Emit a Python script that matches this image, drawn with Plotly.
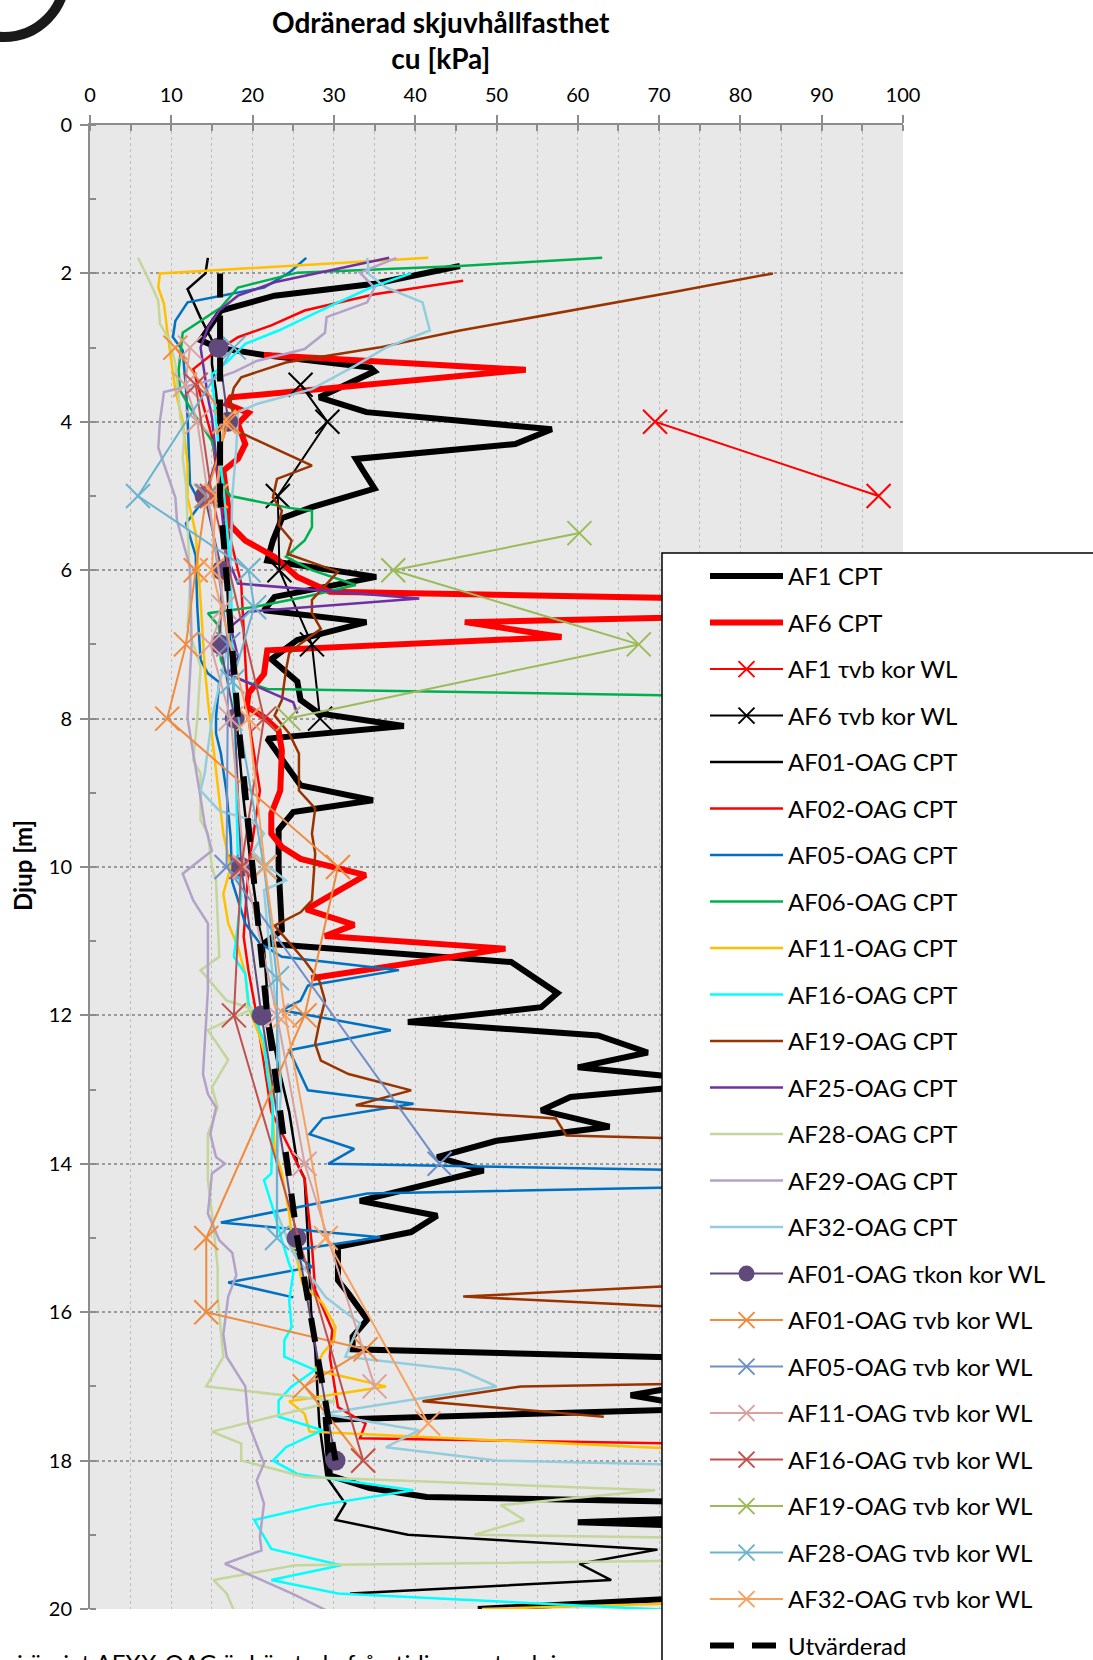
import plotly.graph_objects as go

# ---------------- data: undrained shear strength cu [kPa] vs depth [m] ----------------
af1_cpt_cu = [45.5, 35, 22.7, 16.1, 13.6, 15.7, 21.4, 34.5, 35, 28.2, 34, 45, 56.8, 52.3, 32.7, 33.6, 35, 27.3, 23.6, 22.5,
              21.8, 35.2, 22.7, 21.4, 34, 25.5, 22.3, 25.5, 25.9, 28.2, 38.6, 21.8, 23.6, 25.9, 34.8, 25, 23.2, 23.2, 23.6,
              21.4, 51.8, 57.5, 55.5, 39.1, 62.5, 68.6, 60, 74, 74, 59.1, 55.5, 63.9, 50, 42.7, 48.4, 33.2, 42.7, 39.5,
              30.5, 30.5, 31.8, 34.1, 32.3, 32.3, 76, 78, 66.5, 76, 29, 29.5, 34.4, 41.4, 76, 80, 60, 80, 82, 47.7]
af1_cpt_z = [1.9, 2.14, 2.3, 2.5, 2.9, 3.0, 3.1, 3.27, 3.32, 3.67, 3.87, 3.98, 4.1, 4.3, 4.5, 4.66, 4.9, 5.15, 5.3, 5.6,
             5.87, 6.09, 6.36, 6.54, 6.7, 6.94, 7.2, 7.5, 7.75, 7.93, 8.1, 8.27, 8.56, 8.9, 9.1, 9.26, 9.5, 10.0, 10.85,
             11.03, 11.28, 11.7, 11.89, 12.09, 12.27, 12.5, 12.7, 12.85, 12.95, 13.1, 13.28, 13.5, 13.69, 13.91, 14.09,
             14.5, 14.7, 14.92, 15.12, 15.57, 15.75, 16.1, 16.33, 16.5, 16.62, 16.9, 17.12, 17.3, 17.45, 18.2, 18.37,
             18.49, 18.56, 18.75, 18.83, 18.9, 19.8, 20.0]

af6_cpt_cu = [21.4, 53.6, 17.3, 16.8, 19.5, 18.2, 19.1, 18.2, 16.4, 16.8, 17.3, 19.1, 22.7, 25.5, 29.5, 75, 78, 75, 46.1,
              58, 21.8, 21.4, 19.5, 19.3, 21.4, 23.2, 23.6, 23.4, 22.3, 22.3, 23.6, 25.9, 33.9, 26.6, 32.5, 28.9, 51.1, 27.2]
af6_cpt_z = [3.1, 3.3, 3.67, 3.76, 3.88, 4.03, 4.3, 4.5, 4.66, 5.0, 5.4, 5.6, 5.82, 6.09, 6.29, 6.38, 6.5, 6.63, 6.7,
             6.9, 7.08, 7.4, 7.66, 7.84, 7.98, 8.16, 8.43, 8.97, 9.28, 9.55, 9.73, 9.89, 10.11, 10.57, 10.78, 10.93, 11.1, 11.5]

af1_vb_cu = [69.5, 97]
af1_vb_z = [4, 5]

af6_vb_cu = [25.9, 29.2, 23.1, 23.3, 27.3, 28.3]
af6_vb_z = [3.5, 4, 5, 6, 7, 8]

af01_cpt_cu = [14.5, 14.2, 12, 13.6, 15, 15, 15.5, 16, 16.2, 16.8, 17.2, 18, 18.8, 19.8, 20.8, 21.4, 22, 23, 24.5, 25.5,
               26.4, 26.8, 27.2, 27.7, 28.2, 29.1, 31.4, 30.2, 39.1, 69.8, 60.2, 64.1, 32]
af01_cpt_z = [1.79, 2.0, 2.21, 2.6, 2.9, 3.22, 3.6, 4.2, 5, 6, 7, 8, 9, 10, 10.8, 11.1, 12, 12.6, 13.3, 14.0, 14.2, 15.0,
              16, 16.5, 17.5, 18.22, 18.58, 18.8, 19.0, 19.2, 19.39, 19.61, 19.79]

af02_cpt_cu = [45.9, 35, 26.4, 22.3, 18.2, 15, 12.7, 13.5, 15, 16, 18.6, 19, 19.5, 20.9, 19.5, 18.9, 19.5, 20.5, 22.3,
               25.5, 26.4, 27.3, 27.7, 29.8, 29.5, 30.5, 33.9, 33.2, 78]
af02_cpt_z = [2.1, 2.28, 2.5, 2.7, 2.86, 3.09, 3.29, 3.6, 4.2, 5, 6.18, 7, 8, 8.97, 10, 10.94, 11.4, 12, 13.3, 14, 14.2,
              15.1, 15.7, 16.24, 16.6, 17.28, 17.5, 17.7, 17.78]

af05_cpt_cu = [26.6, 24.5, 21.4, 12, 10.5, 10.2, 11.4, 11.8, 12, 12.3, 13.6, 11.8, 13, 13.2, 13.6, 14.5, 15.9, 15.5, 15.5,
               16.1, 16.8, 17.3, 17.5, 19.1, 20.9, 23.6, 38, 26.8, 25.9, 23.6, 37, 24.5, 26.8, 39.8, 28.6, 27, 32.5,
               29.3, 76, 76, 34.1, 16.1, 35.7, 24.8, 27.3, 17, 25]
af05_cpt_z = [1.79, 1.99, 2.19, 2.39, 2.64, 2.86, 3.04, 3.54, 3.94, 4.84, 5.11, 5.37, 5.8, 6.5, 7.21, 7.39, 7.51, 7.98,
              8.2, 8.47, 9, 9.6, 10.2, 10.76, 11.03, 11.21, 11.39, 11.6, 11.8, 11.93, 12.2, 12.47, 13.01, 13.19, 13.39,
              13.6, 13.8, 14.0, 14.09, 14.31, 14.4, 14.79, 14.99, 15.17, 15.39, 15.6, 15.8]

af06_cpt_cu = [63, 45.5, 25.5, 18.2, 16.1, 11.4, 10.9, 11.1, 12.3, 15, 15.7, 16.8, 17.3, 24.5, 27.3, 27.3, 26.4, 24.1,
               27.3, 32.7, 26.4, 20.5, 14.5, 15.9, 16.1, 16.8, 19.1, 21.8, 78]
af06_cpt_z = [1.79, 1.9, 1.99, 2.19, 2.46, 2.8, 3.31, 3.58, 3.81, 4.26, 4.57, 4.93, 5.0, 5.16, 5.2, 5.42, 5.6, 5.82, 6.0,
              6.2, 6.36, 6.49, 6.58, 6.76, 7.21, 7.39, 7.5, 7.6, 7.7]

af11_cpt_cu = [41.6, 8.6, 8.4, 9.1, 9.5, 10.5, 11.4, 12, 12, 13, 13.6, 14.1, 14.5, 15.9, 16.4, 17.3, 16.4, 17, 18.2, 19.1,
               19.5, 20.9, 22.3, 22.7, 23.6, 24.5, 25, 25.5, 26.1, 28.6, 30.2, 30, 28.6, 27.7, 36.4, 24.5, 26.4, 27,
               33.2, 78, 80, 48.2]
af11_cpt_z = [1.79, 2.0, 2.19, 2.41, 2.77, 3.58, 3.99, 4.57, 5.02, 5.5, 6.4, 7.3, 7.75, 9.1, 9.55, 10, 10.36, 10.76, 11.08,
              11.44, 11.89, 12.29, 12.88, 13.78, 14.13, 14.67, 15.16, 15.3, 15.61, 15.88, 16.2, 16.38, 16.56, 16.78, 17.0,
              17.2, 17.37, 17.61, 17.64, 17.87, 19.9, 20.0]

af16_cpt_cu = [39.5, 35, 29.5, 23.2, 19.1, 16.8, 15, 15.5, 16.5, 17.3, 17.5, 17.8, 18, 18.2, 18.6, 17.7, 19.1, 19.5, 21.4,
               21.8, 22.5, 22.3, 21.4, 22.7, 23.6, 24.5, 25, 24.5, 24.8, 23.9, 23.9, 27.7, 24.8, 23.2, 23.2, 28.6, 24.1,
               22.5, 25.5, 39.8, 28.2, 20.2, 22.3, 30.9, 22.3, 30.5, 78]
af16_cpt_z = [2.0, 2.17, 2.44, 2.77, 2.95, 3.2, 3.36, 4, 5, 6, 7, 8, 9, 10, 10.4, 11.21, 11.44, 11.84, 12.34, 12.79, 13.24,
              14.13, 14.22, 14.67, 15.03, 15.35, 15.48, 15.84, 16.2, 16.38, 16.6, 16.78, 17.0, 17.19, 17.41, 17.59,
              17.82, 18.0, 18.18, 18.4, 18.6, 18.8, 19.19, 19.41, 19.61, 19.79, 20.05]

af19_cpt_cu = [84, 71.3, 45.5, 35.5, 24.1, 18.6, 17.7, 17.3, 18, 27.3, 23, 22.5, 23.6, 23.2, 24.8, 24.3, 30.5, 27.3, 27.3,
               28.4, 25.9, 24.5, 24.1, 23.6, 22.7, 24.5, 25.7, 25.7, 27.7, 27.3, 27.7, 27.5, 27.3, 25.9, 22.7, 26.4,
               28.2, 28.9, 28.2, 27.7, 28.4, 31.8, 39.5, 32.7, 57.3, 58.6, 80, 80, 45.9, 80, 80, 53, 40.9, 63.2]
af19_cpt_z = [2.0, 2.26, 2.77, 3.0, 3.2, 3.4, 3.54, 3.72, 4.12, 4.59, 4.77, 5.02, 5.2, 5.39, 5.6, 5.78, 6.02, 6.4, 6.58,
              6.79, 6.99, 7.12, 7.35, 7.75, 7.96, 8.2, 8.47, 8.97, 9.21, 9.55, 9.82, 10.18, 10.45, 10.61, 10.79, 11.26,
              11.53, 11.8, 12.11, 12.38, 12.61, 12.79, 13.01, 13.21, 13.39, 13.62, 13.68, 15.6, 15.79, 15.97, 16.95,
              17.0, 17.2, 17.41]

af25_cpt_cu = [36.8, 22.7, 18.2, 15.9, 14.5, 13.6, 14.1, 14.5, 15, 15.5, 16.2, 16.8, 18.2, 40.5, 19.5, 17.3, 18.2, 17,
               25, 25.5]
af25_cpt_z = [1.79, 2.12, 2.3, 2.5, 2.73, 3.0, 3.36, 3.67, 3.94, 4.5, 5.2, 5.8, 6.18, 6.38, 6.56, 6.76, 7.17, 7.4, 7.78, 7.93]

af28_cpt_cu = [5.9, 7.3, 8.4, 8.6, 9.8, 10.5, 10.9, 11.1, 11.6, 11.4, 11.8, 12, 12.3, 12, 13.6, 13.2, 12.7, 13.6, 13.6,
               14.5, 15, 15.5, 15.9, 13.6, 16.8, 20, 14.5, 17, 15, 15.7, 14.5, 14.5, 15, 15.7, 15.7, 16.4, 14.3, 30.2,
               15, 18.6, 18.6, 26.4, 69.5, 50.5, 53.4, 47.3, 80, 80, 25.2, 15.2, 16.8, 17.7]
af28_cpt_z = [1.79, 2.1, 2.37, 2.68, 2.9, 3.22, 3.67, 3.94, 4.21, 4.48, 4.84, 5.5, 6.2, 6.76, 7.3, 8, 8.56, 8.74, 9.37,
              9.55, 10, 10.18, 11.21, 11.39, 11.8, 11.91, 12.2, 12.6, 12.97, 13.24, 13.6, 14.22, 14.67, 15.39, 15.79,
              16.6, 17.0, 17.2, 17.61, 17.77, 18.0, 18.22, 18.4, 18.6, 18.8, 19.0, 19.05, 19.34, 19.41, 19.61, 19.79, 20.02]

af29_cpt_cu = [37.7, 33.2, 35, 34.1, 29.1, 28.9, 26.4, 20.5, 17.7, 14.5, 9.1, 8.6, 8.4, 9.1, 10.5, 10.7, 12.3, 12.5, 12,
               13.5, 14.1, 15, 11.4, 12.7, 14.5, 14.5, 14.5, 13.9, 14.5, 15.5, 14.8, 15.5, 16.6, 15, 14.5, 15.9, 17.5,
               18, 17, 16.4, 16.8, 19.1, 19.5, 21.4, 20.5, 21.4, 20.9, 21.1, 16.6, 24.8, 29.1]
af29_cpt_z = [1.79, 1.99, 2.19, 2.39, 2.59, 2.8, 3.02, 3.18, 3.33, 3.45, 3.6, 3.99, 4.35, 4.57, 5.02, 5.33, 5.96, 7, 8, 9,
              9.42, 9.78, 10.09, 10.45, 10.76, 11.08, 11.66, 12.79, 13.06, 13.24, 13.6, 13.91, 14.0, 14.13, 14.67, 15.03,
              15.2, 15.5, 15.79, 16.3, 16.6, 17.0, 17.5, 18.04, 18.27, 18.58, 19.03, 19.21, 19.39, 19.79, 20.02]

af32_cpt_cu = [34.1, 34.3, 36.4, 40.9, 41.8, 36.4, 32.7, 27.3, 20.5, 18.2, 18, 17.5, 17.3, 17, 15, 14.1, 13.6, 15.9, 20,
               21.4, 20, 22, 24.1, 21.4, 22, 23, 23.5, 23, 23, 25, 29, 33.2, 31.4, 45.5, 50, 28.6, 40.5, 36.4, 50, 78]
af32_cpt_z = [1.79, 2.01, 2.19, 2.39, 2.77, 3.0, 3.24, 3.56, 3.76, 3.87, 4.35, 5, 6, 7, 8, 8.74, 8.97, 9.24, 9.37, 9.55,
              9.8, 10, 10.18, 10.31, 11, 12, 13, 14, 14.67, 15.2, 15.8, 16.15, 16.6, 16.78, 17.0, 17.37, 17.59, 17.82,
              18.0, 18.07]

af01_kon_cu = [15.8, 17.0, 14.1, 16.2, 16.0, 17.8, 18.6, 21.1, 25.4, 30.2]
af01_kon_z = [3, 4, 5, 6, 7, 8, 10, 12, 15, 18]

af01_vb_cu = [10.5, 17, 14.3, 13, 11.8, 9.5, 30.5, 26.4, 14.3, 14.3, 33.9, 26.4, 33.6]
af01_vb_z = [3, 4, 5, 6, 7, 8, 10, 12, 15, 16, 16.5, 17, 18]

af05_vb_cu = [14.5, 17, 16.8, 43]
af05_vb_z = [5, 7, 10, 14]

af11_vb_cu = [12.3, 11.7, 13.2, 16.5, 14.8, 17.3, 19, 23, 26.4, 35]
af11_vb_z = [3, 3.5, 4, 6.5, 7, 8, 10, 12, 14, 17]

af16_vb_cu = [13, 15, 21.4, 18.6, 17.7, 33.6]
af16_vb_z = [3.5, 5, 8, 10, 12, 18]

af19_vb_cu = [60.2, 37.3, 67.5, 24.4]
af19_vb_z = [5.5, 6, 7, 8]

af28_vb_cu = [17.7, 5.9, 19.5, 20.2, 17.5, 21.4, 23, 23]
af28_vb_z = [3, 5, 6, 6.5, 7.5, 10, 11.5, 15]

af32_vb_cu = [16.5, 15.5, 15, 19.5, 21.5, 24, 29, 41.6]
af32_vb_z = [4, 5, 6, 8, 10, 12, 15, 17.5]

evaluated_cu = [16, 16, 18.2, 21.8, 25.5, 30.2]
evaluated_z = [2, 5, 8, 12, 15, 18]

x_ticks = [0, 10, 20, 30, 40, 50, 60, 70, 80, 90, 100]
y_ticks = [0, 2, 4, 6, 8, 10, 12, 14, 16, 18, 20]

# ---------------- figure ----------------
W, H = 1093, 1660
L, R, T, B = 90, 190, 125, 51
PW, PH = W - L - R, H - T - B
FONT = "Lato, 'Open Sans', sans-serif"


def px_x(p):
    return (p - L) / PW


def px_y(p):
    return 1 - (p - T) / PH


fig = go.Figure()


def add_line(name, xs, ys, color, width, dash="solid"):
    fig.add_trace(go.Scatter(x=xs, y=ys, name=name, legendgroup=name, mode="lines",
                             line=dict(color=color, width=width, dash=dash)))


def add_x(name, xs, ys, color, width=2):
    fig.add_trace(go.Scatter(x=xs, y=ys, name=name, legendgroup=name, mode="lines+markers",
                             line=dict(color=color, width=width),
                             marker=dict(symbol="x-thin", size=24, color=color,
                                         line=dict(color=color, width=2))))


add_line("AF1 CPT", af1_cpt_cu, af1_cpt_z, "#000000", 6)
add_line("AF6 CPT", af6_cpt_cu, af6_cpt_z, "#FF0000", 6)
add_x("AF1 τvb kor WL", af1_vb_cu, af1_vb_z, "#FF0000")
add_x("AF6 τvb kor WL", af6_vb_cu, af6_vb_z, "#000000")
add_line("AF01-OAG CPT", af01_cpt_cu, af01_cpt_z, "#000000", 2.5)
add_line("AF02-OAG CPT", af02_cpt_cu, af02_cpt_z, "#FF0000", 2.5)
add_line("AF05-OAG CPT", af05_cpt_cu, af05_cpt_z, "#0070C0", 2.5)
add_line("AF06-OAG CPT", af06_cpt_cu, af06_cpt_z, "#00B050", 2.5)
add_line("AF11-OAG CPT", af11_cpt_cu, af11_cpt_z, "#FFC000", 2.5)
add_line("AF16-OAG CPT", af16_cpt_cu, af16_cpt_z, "#00FFFF", 2.5)
add_line("AF19-OAG CPT", af19_cpt_cu, af19_cpt_z, "#993300", 2.5)
add_line("AF25-OAG CPT", af25_cpt_cu, af25_cpt_z, "#7030A0", 2.5)
add_line("AF28-OAG CPT", af28_cpt_cu, af28_cpt_z, "#C3D69B", 2.5)
add_line("AF29-OAG CPT", af29_cpt_cu, af29_cpt_z, "#B3A2C7", 2.5)
add_line("AF32-OAG CPT", af32_cpt_cu, af32_cpt_z, "#93CDDD", 2.5)
fig.add_trace(go.Scatter(x=af01_kon_cu, y=af01_kon_z, name="AF01-OAG τkon kor WL",
                         legendgroup="AF01-OAG τkon kor WL", mode="lines+markers",
                         line=dict(color="#604A7B", width=2),
                         marker=dict(symbol="circle", size=20, color="#604A7B")))
add_x("AF01-OAG τvb kor WL", af01_vb_cu, af01_vb_z, "#F08A3C")
add_x("AF05-OAG τvb kor WL", af05_vb_cu, af05_vb_z, "#6F8FCA")
add_x("AF11-OAG τvb kor WL", af11_vb_cu, af11_vb_z, "#D9A2A0")
add_x("AF16-OAG τvb kor WL", af16_vb_cu, af16_vb_z, "#C0504D")
add_x("AF19-OAG τvb kor WL", af19_vb_cu, af19_vb_z, "#9BBB59")
add_x("AF28-OAG τvb kor WL", af28_vb_cu, af28_vb_z, "#6BB3CF")
add_x("AF32-OAG τvb kor WL", af32_vb_cu, af32_vb_z, "#F8A15E")
add_line("Utvärderad", evaluated_cu, evaluated_z, "#000000", 6, dash="24px,18px")

axis_grey = "#8C8C8C"

fig.update_layout(
    width=W, height=H,
    margin=dict(l=L, r=R, t=T, b=B, autoexpand=False),
    paper_bgcolor="white",
    plot_bgcolor="#E8E8E8",
    font=dict(family=FONT, size=20, color="black"),
    xaxis=dict(
        side="top", range=[0, 100], tickvals=x_ticks, ticktext=[str(v) for v in x_ticks],
        showline=True, linecolor=axis_grey, linewidth=2,
        ticks="outside", ticklen=8, tickwidth=2, tickcolor=axis_grey,
        ticklabelstandoff=5,
        showgrid=True, gridcolor="#BDBDBD", griddash="dot", gridwidth=1,
        zeroline=False,
        minor=dict(dtick=5, tick0=0, ticks="inside", ticklen=6, tickwidth=1.5, tickcolor=axis_grey,
                   showgrid=True, gridcolor="#BDBDBD", griddash="dot", gridwidth=1),
        tickfont=dict(family=FONT, size=20, color="black"),
    ),
    yaxis=dict(
        range=[20, 0], tickvals=y_ticks, ticktext=[str(v) for v in y_ticks],
        showline=True, linecolor=axis_grey, linewidth=2,
        ticks="outside", ticklen=8, tickwidth=2, tickcolor=axis_grey,
        ticklabelstandoff=4,
        showgrid=True, gridcolor="#9A9A9A", griddash="dot", gridwidth=1.5,
        zeroline=False,
        minor=dict(dtick=1, tick0=0, ticks="inside", ticklen=6, tickwidth=1.5, tickcolor=axis_grey,
                   showgrid=False),
        tickfont=dict(family=FONT, size=20, color="black"),
    ),
    showlegend=True,
    legend=dict(
        x=px_x(705), y=px_y(554), xanchor="left", yanchor="top",
        bgcolor="rgba(0,0,0,0)", borderwidth=0,
        font=dict(family=FONT, size=24, color="black"),
        itemwidth=73, tracegroupgap=12.3, traceorder="grouped",
    ),
)

# footnote text below the chart (partly hidden by the legend box)
fig.add_shape(type="rect", xref="paper", yref="paper",
              x0=px_x(14), x1=px_x(1000), y0=px_y(1682), y1=px_y(1642),
              line=dict(width=0), fillcolor="rgba(0,0,0,0)", layer="above",
              label=dict(text="i övrigt AFXX-OAG är hämtade från tidigare utredningar",
                         textposition="middle left", padding=0,
                         font=dict(family=FONT, size=24, color="black")))

# white legend panel that covers the right part of the plot
fig.add_shape(type="rect", xref="paper", yref="paper",
              x0=px_x(662), x1=px_x(1200), y0=px_y(553), y1=px_y(1800),
              line=dict(color="black", width=1.5), fillcolor="white", layer="above")

# ring in the top-left corner
fig.add_shape(type="circle", xref="paper", yref="paper",
              x0=px_x(-57), x1=px_x(65), y0=px_y(37), y1=px_y(-85),
              line=dict(color="#1A1A1A", width=10), fillcolor="rgba(0,0,0,0)", layer="above")

fig.add_annotation(text="<b>Odränerad skjuvhållfasthet<br>cu [kPa]</b>",
                   xref="paper", yref="paper", x=px_x(441), y=px_y(40),
                   xanchor="center", yanchor="middle", showarrow=False,
                   font=dict(family=FONT, size=28, color="black"))

fig.add_annotation(text="<b>Djup [m]</b>", textangle=-90,
                   xref="paper", yref="paper", x=px_x(23), y=px_y(866),
                   xanchor="center", yanchor="middle", showarrow=False,
                   font=dict(family=FONT, size=24, color="black"))

fig.write_html("out.html")
